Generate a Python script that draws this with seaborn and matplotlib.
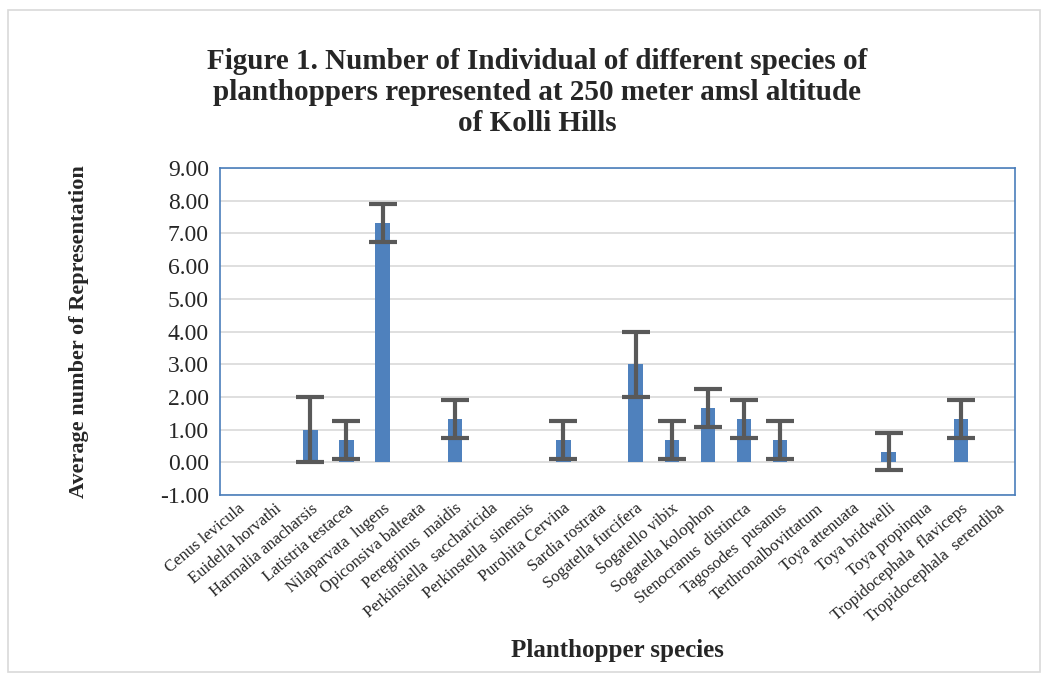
import matplotlib
matplotlib.use('Agg')
import matplotlib.pyplot as plt
import seaborn as sns
import pandas as pd
from matplotlib.patches import Rectangle

# species names and values
species = ['Cenus levicula', 'Euidella horvathi', 'Harmalia anacharsis', 'Latistria testacea',
           'Nilaparvata  lugens', 'Opiconsiva balteata', 'Peregrinus  maidis',
           'Perkinsiella  saccharicida', 'Perkinstella  sinensis', 'Purohita Cervina',
           'Sardia rostrata', 'Sogatella furcifera', 'Sogatello vibix', 'Sogatella kolophon',
           'Stenocranus  distincta', 'Tagosodes  pusanus', 'Terthronalbovittatum',
           'Toya attenuata', 'Toya bridwelli', 'Toya propinqua',
           'Tropidocephala  flaviceps', 'Tropidocephala  serendiba']
means = [0, 0, 1.00, 0.67, 7.33, 0, 1.33, 0, 0, 0.67, 0, 3.00, 0.67, 1.67, 1.33, 0.67,
         0, 0, 0.33, 0, 1.33, 0]
errors = [0, 0, 1.00, 0.58, 0.58, 0, 0.58, 0, 0, 0.58, 0, 1.00, 0.58, 0.58, 0.58, 0.58,
          0, 0, 0.58, 0, 0.58, 0]

df = pd.DataFrame({'Species': species, 'Mean': means, 'Err': errors})

sns.set_style('white')
plt.rcParams['font.family'] = ['Liberation Serif', 'DejaVu Serif']

fig = plt.figure(figsize=(10.49, 6.86), dpi=100)
ax = fig.add_axes([0.2097, 0.2784, 0.758, 0.4766])

# outer chart frame
fig.patches.append(Rectangle((0.008, 0.02), 0.983, 0.965, transform=fig.transFigure,
                             fill=False, edgecolor='#d9d9d9', linewidth=1.2))

sns.barplot(data=df, x='Species', y='Mean', color='#4f81bd', saturation=1, width=0.4,
            errorbar=None, linewidth=0, ax=ax, zorder=3)

# error bars only where there is spread
has_err = df[df['Err'] > 0]
ax.errorbar(has_err.index, has_err['Mean'], yerr=has_err['Err'], fmt='none',
            ecolor='#595959', elinewidth=3, capsize=10, capthick=3, zorder=4)

ax.set_ylim(-1, 9)
ax.set_yticks(range(-1, 10))
ax.set_yticklabels(['%.2f' % v for v in range(-1, 10)], fontsize=17)
ax.set_xlim(-0.5, len(species) - 0.5)
ax.yaxis.grid(True, color='#d9d9d9', linewidth=1.2, zorder=0)
ax.set_axisbelow(True)
for s in ax.spines.values():
    s.set_color('#4a7ebb')
    s.set_linewidth(1.2)
ax.tick_params(axis='y', length=0, pad=8)
ax.tick_params(axis='x', length=0, pad=4)

ax.set_xticks(range(len(species)))
ax.set_xticklabels(species, rotation=40, ha='right', rotation_mode='anchor', fontsize=12)

ax.set_xlabel('Planthopper species', fontsize=18, fontweight='bold')
ax.xaxis.set_label_coords(0.5, -0.44)
ax.set_ylabel('Average number of Representation', fontsize=16, fontweight='bold')
ax.yaxis.set_label_coords(-0.165, 0.5)

fig.text(0.512, 0.93, 'Figure 1. Number of Individual of different species of\n'
         'planthoppers represented at 250 meter amsl altitude\nof Kolli Hills',
         ha='center', va='top', fontsize=21, fontweight='bold', linespacing=1.2)

plt.savefig('out.png', dpi=100)
